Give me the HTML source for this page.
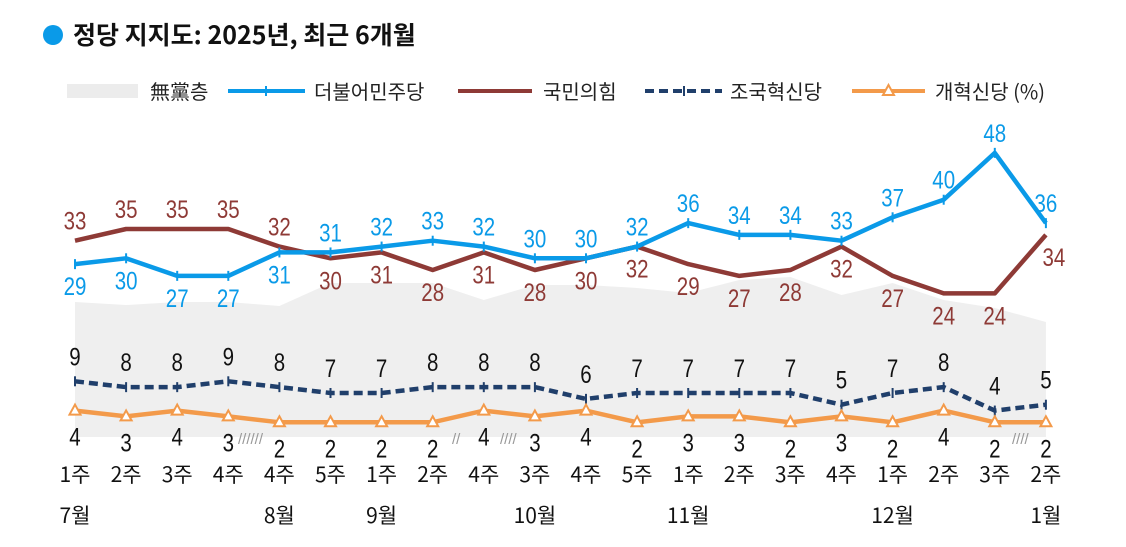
<!DOCTYPE html>
<html><head><meta charset="utf-8"><style>
body{margin:0;background:#fff}
svg text{font-family:"Liberation Sans","Noto Sans CJK KR",sans-serif}
</style></head><body>
<svg width="1126" height="542" viewBox="0 0 1126 542" xmlns="http://www.w3.org/2000/svg">
<circle cx="53" cy="35" r="10" fill="#0a9ae8"/>
<text x="73" y="44" font-size="25" font-weight="bold" fill="#111" style="font-family:'Noto Sans CJK KR',sans-serif">정당 지지도: 2025년, 최근 6개월</text>
<rect x="67" y="84" width="71" height="14" fill="#ececec"/>
<text x="150" y="99" font-size="20" fill="#222" style="font-family:'Noto Sans CJK KR',sans-serif">無黨층</text>
<line x1="228" y1="91" x2="305" y2="91" stroke="#0a9ae8" stroke-width="4"/>
<line x1="266" y1="86" x2="266" y2="96" stroke="#0a9ae8" stroke-width="2"/>
<text x="314" y="99" font-size="20" fill="#222" style="font-family:'Noto Sans CJK KR',sans-serif">더불어민주당</text>
<line x1="458" y1="91" x2="532" y2="91" stroke="#8e3a36" stroke-width="4"/>
<text x="543" y="99" font-size="20" fill="#222" style="font-family:'Noto Sans CJK KR',sans-serif">국민의힘</text>
<line x1="645" y1="91" x2="722" y2="91" stroke="#203f6b" stroke-width="4" stroke-dasharray="9,5"/>
<line x1="684" y1="86" x2="684" y2="96" stroke="#203f6b" stroke-width="2"/>
<text x="730" y="99" font-size="20" fill="#222" style="font-family:'Noto Sans CJK KR',sans-serif">조국혁신당</text>
<line x1="852" y1="91" x2="925" y2="91" stroke="#f39a4a" stroke-width="4"/>
<path d="M888.5,85 L894,95 L883,95 Z" fill="#fff" stroke="#f39a4a" stroke-width="2"/>
<text x="935" y="99" font-size="20" fill="#222" style="font-family:'Noto Sans CJK KR',sans-serif">개혁신당 (%)</text>
<g id="chart"></g>
</svg>
<script>
const X=i=>75+51.1*i, Y=v=>434-v*5.857;
const g=document.getElementById('chart');
let h='';
const grayTop=[302,305,302,302,306,283,283,283,300,285,285,288,293,280,277,295,283,300,308,322];
let d='M'+X(0)+',437 ';grayTop.forEach((t,i)=>d+='L'+X(i)+','+t+' ');d+='L'+X(19)+',437 Z';
h+=`<path d="${d}" fill="#efefef"/>`;
const blue=[29,30,27,27,31,31,32,33,32,30,30,32,36,34,34,33,37,40,48,36];
const red=[33,35,35,35,32,30,31,28,31,28,30,32,29,27,28,32,27,24,24,34];
const navy=[9,8,8,9,8,7,7,8,8,8,6,7,7,7,7,5,7,8,4,5];
const orng=[4,3,4,3,2,2,2,2,4,3,4,2,3,3,2,3,2,4,2,2];
const pts=a=>a.map((v,i)=>X(i).toFixed(1)+','+Y(v).toFixed(1)).join(' ');
h+=`<polyline points="${pts(red)}" fill="none" stroke="#8e3a36" stroke-width="4.5" stroke-linejoin="round"/>`;
h+=`<polyline points="${pts(blue)}" fill="none" stroke="#0a9ae8" stroke-width="4.5" stroke-linejoin="round"/>`;
blue.forEach((v,i)=>h+=`<line x1="${X(i)}" y1="${Y(v)-5}" x2="${X(i)}" y2="${Y(v)+5}" stroke="#0a9ae8" stroke-width="2"/>`);
h+=`<polyline points="${pts(navy)}" fill="none" stroke="#203f6b" stroke-width="4.5" stroke-dasharray="9,5"/>`;
navy.forEach((v,i)=>h+=`<line x1="${X(i)}" y1="${Y(v)-5}" x2="${X(i)}" y2="${Y(v)+5}" stroke="#203f6b" stroke-width="2"/>`);
h+=`<polyline points="${pts(orng)}" fill="none" stroke="#f39a4a" stroke-width="4.5"/>`;
orng.forEach((v,i)=>{const x=X(i),y=Y(v);h+=`<path d="M${x},${y-6} L${x+5.5},${y+4} L${x-5.5},${y+4} Z" fill="#fff" stroke="#f39a4a" stroke-width="2"/>`;});
const T=(x,y,s,c)=>h+=`<text transform="translate(${x},${y}) scale(0.82,1)" font-size="25" fill="${c}" text-anchor="middle">${s}</text>`;
const blueBelow=[1,1,1,1,1,0,0,0,0,0,0,0,0,0,0,0,0,0,0,0];
blue.forEach((v,i)=>T(X(i),blueBelow[i]?Y(v)+31:Y(v)-11,v,'#0a9ae8'));
const redAbove=[1,1,1,1,1,0,0,0,0,0,0,0,0,0,0,0,0,0,0,0];
red.forEach((v,i)=>T(X(i)+(i==19?8:0),redAbove[i]?Y(v)-11:Y(v)+31,v,'#8e3a36'));
navy.forEach((v,i)=>T(X(i),Y(v)-16,v,'#111'));
orng.forEach((v,i)=>T(X(i),Y(v)+35,v,'#111'));
const wk=['1주','2주','3주','4주','4주','5주','1주','2주','4주','3주','4주','5주','1주','2주','3주','4주','1주','2주','3주','2주'];
wk.forEach((s,i)=>h+=`<text x="${X(i)}" y="482" font-size="21" fill="#111" text-anchor="middle" style="font-family:'Noto Sans CJK KR',sans-serif">${s}</text>`);
[[0,'7월'],[4,'8월'],[6,'9월'],[9,'10월'],[12,'11월'],[16,'12월'],[19,'1월']].forEach(([i,s])=>h+=`<text x="${X(i)}" y="523" font-size="21" fill="#111" text-anchor="middle" style="font-family:'Noto Sans CJK KR',sans-serif">${s}</text>`);
[[238,'//////'],[452,'//'],[500,'////'],[1012,'////']].forEach(([x,s])=>h+=`<text x="${x}" y="444" font-size="15" fill="#999">${s}</text>`);
g.innerHTML=h;
</script>
</body></html>
